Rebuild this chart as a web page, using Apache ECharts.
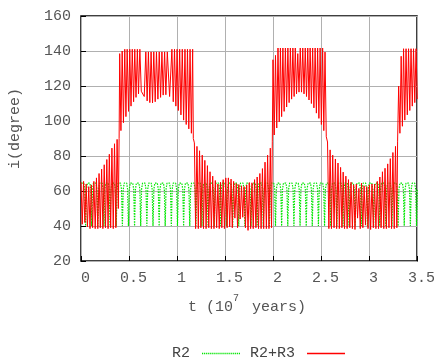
<!DOCTYPE html>
<html><head><meta charset="utf-8">
<script src="https://cdn.jsdelivr.net/npm/echarts@6/dist/echarts.min.js"></script>
<style>html,body{margin:0;padding:0;background:#fff}#c{width:438px;height:363px}</style>
</head><body><div id="c"></div>
<script>
// ---- data ----
const xTicks = [0, 0.5, 1, 1.5, 2, 2.5, 3, 3.5];
const yTicks = [20, 40, 60, 80, 100, 120, 140, 160];
const seriesNames = ['R2', 'R2+R3'];

// R2: times of the narrow dips (to ~40 deg) and of the arch tops (~65 deg)
const r2DipT = [0.048,0.111,0.175,0.239,0.303,0.367,0.431,0.494,0.558,0.622,0.686,0.750,0.814,0.877,0.941,1.005,1.069,1.133,1.197,1.260,1.324,1.388,1.452,1.516,1.580,1.643,1.707,1.771,1.835,1.899,1.963,2.026,2.090,2.154,2.218,2.282,2.346,2.409,2.473,2.537,2.601,2.665,2.729,2.792,2.856,2.920,2.984,3.048,3.112,3.175,3.239,3.303,3.367,3.431,3.495];
const r2PeakT = [0.016,0.080,0.143,0.207,0.271,0.335,0.399,0.463,0.526,0.590,0.654,0.718,0.782,0.846,0.909,0.973,1.037,1.101,1.165,1.229,1.292,1.356,1.420,1.484,1.548,1.612,1.675,1.739,1.803,1.867,1.931,1.995,2.058,2.122,2.186,2.250,2.314,2.378,2.441,2.505,2.569,2.633,2.697,2.761,2.824,2.888,2.952,3.016,3.080,3.144,3.207,3.271,3.335,3.399,3.463];
const r2Bottom = 40;
const r2Shoulder = 61;
const r2Top = 65.5;
const r2NearTop = 64.5;

// R2+R3: extremes of the fast oscillation, segment by segment
const redA_t = [0.000,0.013,0.027,0.040,0.054,0.067,0.081,0.094,0.107,0.121,0.134,0.148,0.161,0.175,0.188,0.201,0.215,0.228,0.242,0.255,0.269,0.282,0.295,0.309,0.322,0.336,0.349,0.363,0.376,0.389,0.397];
const redA_i = [65,41,65.5,42,64,39.5,62.5,38.5,63.5,39,65.5,38.5,67.5,38.5,70,39,72.5,38.5,75,39,78,38.5,81,39,84.5,38.5,87,39,89.5,50,90];

const redB_t = [0.403,0.416,0.429,0.442,0.456,0.468,0.481,0.495,0.508,0.521,0.534,0.548,0.560,0.573,0.587,0.599,0.613,0.628,0.644,0.659,0.675,0.689,0.702,0.717,0.730,0.745,0.758,0.773,0.786,0.801,0.815,0.829,0.843,0.856,0.871,0.884,0.899,0.923,0.947,0.961,0.974,0.988,1.001,1.014,1.028,1.041,1.055,1.069,1.083,1.096,1.109,1.123,1.136,1.150,1.163,1.170];
const redB_i = [138.5,94.5,140,99,141,102.5,141,105.5,141,108.5,141,111,141,113.5,141,115.5,141,117,118,114,139.5,111.5,139.5,110.5,139.5,110.3,139.5,111,139.5,112.5,139.5,113.5,139.5,114.8,139.5,115,139.5,114,141,111,141,108.5,141,106,141,103.5,141,100.5,141,98,141,95.5,141,93,141,90];

const redC_t = [1.181,1.194,1.208,1.222,1.235,1.249,1.263,1.276,1.290,1.303,1.317,1.331,1.344,1.358,1.372,1.385,1.399,1.413,1.426,1.440,1.453,1.467,1.481,1.494,1.508,1.522,1.535,1.549,1.563,1.576,1.590,1.603,1.617,1.631,1.644,1.658,1.672,1.685,1.699,1.713,1.726,1.740,1.753,1.767,1.781,1.794,1.808,1.822,1.835,1.849,1.863,1.876,1.890,1.903,1.917,1.931,1.944,1.958,1.972,1.985,1.993];
const redC_i = [87.5,38.5,85.5,38.5,83,39,80.5,38.5,77.5,38.5,74.5,39,71,38.5,68.5,38.5,66,39,64,38.5,65,39,66.5,38.5,67.5,39,67.5,39.5,66.8,39,65.5,44.5,64.3,39,63.7,44,63,45,62.5,39,63.5,37.5,64.8,38.5,64.7,38.5,66.5,39,68,38.5,70,38.5,72.8,38.5,76.5,38.5,80.5,38.5,84.5,39,88.5];

const redD_t = [2.000,2.013,2.026,2.039,2.052,2.065,2.077,2.090,2.103,2.116,2.129,2.142,2.155,2.168,2.181,2.194,2.207,2.220,2.232,2.245,2.258,2.271,2.284,2.297,2.310,2.323,2.336,2.349,2.362,2.375,2.387,2.400,2.413,2.426,2.439,2.452,2.465,2.478,2.491,2.504,2.517,2.529,2.542,2.555];
const redD_i = [135,92,137.5,96,141.7,99.5,141.7,102.5,141.7,105.5,141.7,108,141.7,110.5,141.7,112.5,141.7,114,141.7,115.5,138.5,116.5,141.7,116.5,141.7,115.5,141.7,114,141.7,112,141.7,110,141.7,107.5,141.7,104.5,141.7,101.5,141.7,98,141.7,94.5,139.4,91];

const redE_t = [2.568,2.582,2.595,2.609,2.622,2.636,2.650,2.663,2.677,2.691,2.704,2.718,2.731,2.745,2.759,2.772,2.786,2.800,2.813,2.827,2.840,2.854,2.868,2.881,2.895,2.909,2.922,2.936,2.949,2.963,2.977,2.990,3.004,3.017,3.031,3.045,3.058,3.072,3.086,3.099,3.113,3.126,3.140,3.154,3.167,3.181,3.195,3.208,3.222,3.235,3.249,3.263,3.276,3.290,3.298];
const redE_i = [88,38.5,83.5,38.5,80.5,39,78.3,38.5,76,38.5,73.5,39,70.8,38.5,68.5,38.5,66.5,39,65,38.5,63.5,38,64,44.5,61.5,38.5,64.5,39,63,40.5,62.5,38.5,63.5,38,64,39,64,38.5,65.5,38.5,68,39,71,38.5,73,38.5,75.5,39,78.5,38.5,82,38.5,85.5,39,88.5];

const redF_t = [3.309,3.322,3.335,3.348,3.360,3.373,3.386,3.399,3.412,3.425,3.438,3.451,3.464,3.477,3.490,3.503];
const redF_i = [120,93,137,97,141.3,100.5,141.3,103.5,141.3,106,141.3,108.5,141.3,110.5,141.3,112.5];

// ---- build series data ----
function zip(ts, vs) { return ts.map((t, k) => [t, vs[k]]); }
const redData = [].concat(
  zip(redA_t, redA_i), zip(redB_t, redB_i), zip(redC_t, redC_i),
  zip(redD_t, redD_i), zip(redE_t, redE_i), zip(redF_t, redF_i));

function buildR2() {
  const ev = [];
  r2DipT.forEach(t => ev.push([t, 'd']));
  r2PeakT.forEach(t => ev.push([t, 'p']));
  ev.sort((a, b) => a[0] - b[0]);
  const pts = [];
  ev.forEach(([t, k]) => {
    if (k === 'd') pts.push([t - 0.009, r2Shoulder], [t, r2Bottom], [t + 0.009, r2Shoulder]);
    else pts.push([t - 0.013, r2NearTop], [t, r2Top], [t + 0.013, r2NearTop]);
  });
  return pts.filter(p => p[0] >= 0);
}
const r2Data = buildR2();

// legend sample icons: a dotted stroke and a solid stroke
let dotted = 'path://';
for (let k = 0; k < 38; k += 2) dotted += 'M' + k + ',0h1.2v1.3h-1.2z';
const solid = 'path://M0,0h38v1.3h-38z';

const FONT = 'Liberation Mono';
const GREEN = '#00e600';
const chart = echarts.init(document.getElementById('c'), null, {renderer: 'canvas'});
chart.setOption({
  animation: false,
  backgroundColor: '#fff',
  grid: {left: 81, right: 18, top: 16, bottom: 102, show: true, borderColor: '#000', borderWidth: 1.5, backgroundColor: 'transparent'},
  xAxis: {
    type: 'value', min: xTicks[0], max: xTicks[xTicks.length - 1], interval: 0.5,
    axisLine: {show: false},
    axisTick: {show: true, inside: true, length: 5, lineStyle: {color: '#000'}},
    splitLine: {show: true, lineStyle: {color: '#b0b0b0', width: 1}},
    axisLabel: {fontFamily: FONT, fontSize: 15, color: '#555', margin: 10, padding: [0, 0, 0, 9]},
    name: '{a|t (10}{sup|7}{a| years)}', nameLocation: 'middle', nameGap: 32,
    nameTextStyle: {fontFamily: FONT, fontSize: 15, color: '#555', padding: [0, 4, 0, 0],
      rich: {a: {fontFamily: FONT, fontSize: 15, color: '#555', lineHeight: 22, verticalAlign: 'bottom'},
             sup: {fontFamily: FONT, fontSize: 10, color: '#555', lineHeight: 22, verticalAlign: 'top', padding: [0, 4, 0, 0]}}}
  },
  yAxis: {
    type: 'value', min: yTicks[0], max: yTicks[yTicks.length - 1], interval: 20,
    axisLine: {show: false},
    axisTick: {show: true, inside: true, length: 5, lineStyle: {color: '#000'}},
    splitLine: {show: true, lineStyle: {color: '#b0b0b0', width: 1}},
    axisLabel: {fontFamily: FONT, fontSize: 15, color: '#555', margin: 10},
    name: 'i(degree)', nameLocation: 'middle', nameRotate: 90, nameGap: 58,
    nameTextStyle: {fontFamily: FONT, fontSize: 15, color: '#555', padding: [0, 0, 0, 20]}
  },
  legend: {
    data: [{name: seriesNames[0], icon: dotted}, {name: seriesNames[1], icon: solid}],
    left: 167, top: 341, align: 'right', symbolKeepAspect: true,
    itemWidth: 38, itemHeight: 14, itemGap: 10,
    textStyle: {fontFamily: FONT, fontSize: 15, color: '#444', padding: [0, 7, 0, 0]}
  },
  series: [
    {name: seriesNames[0], type: 'line', data: r2Data, symbol: 'none', showSymbol: false, sampling: null,
     lineStyle: {color: GREEN, width: 1.2, type: [1.5, 1.2]}, itemStyle: {color: GREEN}, z: 2},
    {name: seriesNames[1], type: 'line', data: redData, symbol: 'none', showSymbol: false, sampling: null,
     lineStyle: {color: '#ff0000', width: 1}, itemStyle: {color: '#ff0000'}, z: 3}
  ]
});
</script></body></html>
